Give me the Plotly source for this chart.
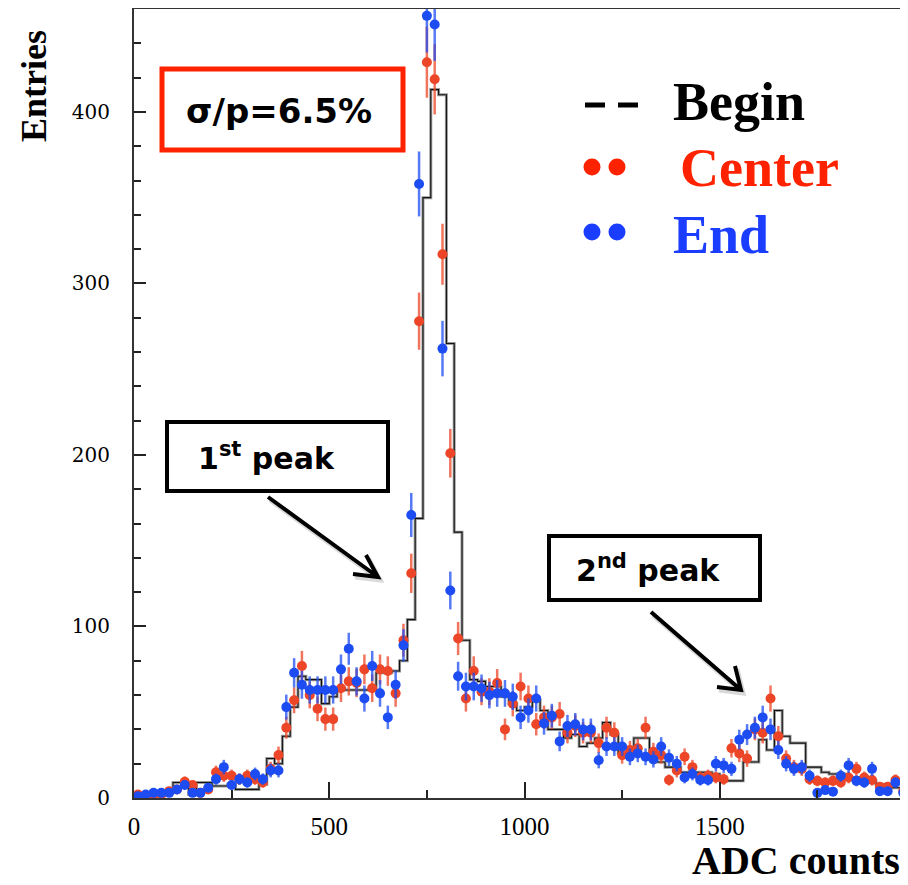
import numpy as np
import plotly.graph_objects as go

# ---------------- data (bin width 20 ADC counts, bins start at 0) ----------------
BIN_WIDTH = 20
begin_counts = [
    1, 1, 2, 2, 3, 9, 9, 2, 9, 9,
    7, 7, 8, 5, 5, 5, 8, 23, 20, 36,
    53, 71, 69, 69, 55, 59, 64, 63, 63, 63,
    63, 73, 73, 74, 80, 104, 163, 350, 413, 410,
    265, 155, 92, 69, 68, 65, 65, 59, 55, 51,
    53, 57, 51, 40, 40, 35, 37, 30, 32, 35,
    44, 37, 26, 26, 35, 35, 25, 21, 18, 18,
    15, 15, 15, 15, 14, 10, 10, 10, 21, 21,
    34, 28, 51, 36, 32, 32, 18, 18, 15, 14,
    14, 12, 12, 10, 10, 8, 8, 6, 6,
]
center_counts = [
    2, 1, 2, 2, 4, 5, 9.5, 7.6, 3, 5,
    15, 13, 13, 11, 13, 11, 9, 17, 25, 41,
    57, 77, 60, 52, 46, 46, 64, 68, 67, 75,
    64, 75, 74, 61, 92, 131, 278, 429, 419, 317,
    201, 93, 58, 74, 62, 62, 67, 40, 55, 65,
    58, 43, 47, 47, 49, 38, 42, 38, 38, 32,
    41, 38, 25, 28, 29, 41, 27, 25, 10.5, 16,
    24, 18, 12, 13, 12, 11, 29, 26, 23, 40,
    38, 58, 36, 23, 18, 17, 11, 10, 9, 10,
    9, 12, 17, 12, 10.5, 6.5, 6.5, 10.5, 4,
]
end_counts = [
    1, 2, 3, 3, 3, 5, 7.6, 3, 3, 6,
    11, 18, 7.6, 11, 9, 14, 11, 16, 16, 53,
    73, 66, 63, 63, 63, 63, 75, 87, 68, 58,
    77, 61, 47, 66, 89, 165, 358, 456, 451, 262,
    121, 71, 65, 65, 64, 60, 61, 61, 59, 47,
    51, 58, 43.5, 48, 33, 42, 43, 40, 40, 22,
    30, 30, 30, 24, 26, 24, 22.5, 30, 23.5, 20,
    12, 14, 10.5, 10.5, 20, 19, 17, 34, 37, 41,
    47, 40, 28, 20, 17, 18, 13, 3, 4.6, 3.7,
    13, 19, 10, 9, 17, 4, 4, 9, 3,
]
x_tick_vals = [0, 500, 1000, 1500]
y_tick_vals = [0, 100, 200, 300, 400]

n_bins = len(begin_counts)
edges = np.arange(n_bins + 1) * BIN_WIDTH
centers = edges[:-1] + BIN_WIDTH / 2

# ---------------- geometry (screen pixels; page body has an 8px margin) ----------------
OFF = 8
W, H = 908 - OFF, 885 - OFF
PLOT_L, PLOT_R, PLOT_T, PLOT_B = 134, 908, 9, 798   # plot area on screen
PW, PH = PLOT_R - PLOT_L, PLOT_B - PLOT_T


def px(x):
    return (x - PLOT_L) / PW


def py(y):
    return (PLOT_B - y) / PH


RED = "#EC4527"
BLUE = "#1D4CF2"

fig = go.Figure()

# Begin histogram (step line)
hx = list(edges)
hy = list(begin_counts) + [begin_counts[-1]]
fig.add_trace(go.Scatter(x=hx, y=hy, mode="lines", line=dict(shape="hv", color="#9a9a9a", width=3),
                         hoverinfo="skip", showlegend=False))
fig.add_trace(go.Scatter(x=hx, y=hy, mode="lines", line=dict(shape="hv", color="#111111", width=1.1),
                         name="Begin", showlegend=False))

# Center and End points with statistical error bars
fig.add_trace(go.Scatter(
    x=centers, y=center_counts, mode="markers", name="Center", showlegend=False,
    marker=dict(color=RED, size=10),
    error_y=dict(type="data", array=np.sqrt(center_counts), color="rgba(236,69,39,0.75)",
                 thickness=2.5, width=0)))
fig.add_trace(go.Scatter(
    x=centers, y=end_counts, mode="markers", name="End", showlegend=False,
    marker=dict(color=BLUE, size=10),
    error_y=dict(type="data", array=np.sqrt(end_counts), color="rgba(29,76,242,0.75)",
                 thickness=2.5, width=0)))

shapes = []
annotations = []

# sigma/p box
shapes.append(dict(type="rect", xref="paper", yref="paper", x0=px(162), x1=px(403), y0=py(150), y1=py(69),
                   line=dict(color="#FF2200", width=5), fillcolor="rgba(0,0,0,0)"))
annotations.append(dict(xref="paper", yref="paper", x=px(279), y=py(111), text="<b>σ/p=6.5%</b>",
                        showarrow=False, xanchor="center", yanchor="middle",
                        font=dict(family="DejaVu Sans", size=34, color="black")))

# 1st peak box
shapes.append(dict(type="rect", xref="paper", yref="paper", x0=px(167), x1=px(388), y0=py(491), y1=py(422),
                   line=dict(color="black", width=4), fillcolor="white"))
annotations.append(dict(xref="paper", yref="paper", x=px(266), y=py(456), text="<b>1<sup>st</sup> peak</b>",
                        showarrow=False, xanchor="center", yanchor="middle",
                        font=dict(family="DejaVu Sans", size=30, color="black")))

# 2nd peak box
shapes.append(dict(type="rect", xref="paper", yref="paper", x0=px(549), x1=px(760), y0=py(600), y1=py(536),
                   line=dict(color="black", width=4), fillcolor="white"))
annotations.append(dict(xref="paper", yref="paper", x=px(648), y=py(569), text="<b>2<sup>nd</sup> peak</b>",
                        showarrow=False, xanchor="center", yanchor="middle",
                        font=dict(family="DejaVu Sans", size=30, color="black")))


def arrow_path(tail, tip, arm1, arm2):
    pts = [tail, tip, arm1, arm2]
    (tx, ty), (hx_, hy_), (a1x, a1y), (a2x, a2y) = [(px(x), py(y)) for x, y in pts]
    return (f"M {tx},{ty} L {hx_},{hy_} M {a1x},{a1y} L {hx_},{hy_} L {a2x},{a2y}")


# arrow shadows (soft grey) then arrows
for tail, tip, a1, a2 in [((268, 497), (378, 577), (353, 574), (366, 555)),
                          ((651, 612), (741, 690), (717, 687), (735, 666))]:
    sh = [(x + 2, y + 3) for x, y in (tail, tip, a1, a2)]
    shapes.append(dict(type="path", xref="paper", yref="paper", path=arrow_path(*sh),
                       line=dict(color="rgba(0,0,0,0.15)", width=5)))
    shapes.append(dict(type="path", xref="paper", yref="paper", path=arrow_path(tail, tip, a1, a2),
                       line=dict(color="black", width=4)))

# Legend (hand drawn like the reference)
for x0, x1 in [(585, 605), (618, 638)]:
    shapes.append(dict(type="line", xref="paper", yref="paper", x0=px(x0), x1=px(x1), y0=py(105), y1=py(105),
                       line=dict(color="black", width=5)))
for cy, col in [(167, "#FF2200"), (232, "#1A3DFF")]:
    for cx in (592, 617):
        shapes.append(dict(type="circle", xref="paper", yref="paper", x0=px(cx - 8.5), x1=px(cx + 8.5),
                           y0=py(cy + 8.5), y1=py(cy - 8.5), line=dict(width=0), fillcolor=col))
for text, x, y, col in [("Begin", 671, 102, "black"), ("Center", 678, 168, "#FF2200"), ("End", 671, 235, "#1A3DFF")]:
    annotations.append(dict(xref="paper", yref="paper", x=px(x), y=py(y), text=f"<b>{text}</b>",
                            showarrow=False, xanchor="left", yanchor="middle",
                            font=dict(family="Liberation Serif", size=54, color=col)))

# Axis titles
annotations.append(dict(xref="paper", yref="paper", x=px(34), y=py(86), text="<b>Entries</b>", textangle=-90,
                        showarrow=False, xanchor="center", yanchor="middle",
                        font=dict(family="Liberation Serif", size=36, color="black")))
annotations.append(dict(xref="paper", yref="paper", x=px(902), y=py(861), text="<b>ADC counts</b>",
                        showarrow=False, xanchor="right", yanchor="middle",
                        font=dict(family="Liberation Serif", size=40, color="black")))

fig.update_layout(
    width=W, height=H,
    margin=dict(l=PLOT_L - OFF, r=W - (PLOT_R - OFF), t=PLOT_T - OFF, b=H - (PLOT_B - OFF)),
    paper_bgcolor="white", plot_bgcolor="white",
    shapes=shapes, annotations=annotations, showlegend=False,
)
fig.update_xaxes(range=[0, PW / 0.3905], tickvals=x_tick_vals, ticks="inside", ticklen=16, tickwidth=2,
                 tickcolor="#222", showline=True, linecolor="#333", linewidth=2, mirror=True, showgrid=False,
                 zeroline=False, ticklabelstandoff=5,
                 tickfont=dict(family="Liberation Serif", size=25, color="black"),
                 minor=dict(dtick=250, tick0=0, ticks="inside", ticklen=8, tickcolor="#222", tickwidth=2))
fig.update_yaxes(range=[0, 460], tickvals=y_tick_vals, ticks="inside", ticklen=12, tickwidth=2,
                 tickcolor="#222", showline=True, linecolor="#333", linewidth=2, mirror=False, showgrid=False,
                 zeroline=False, ticklabelstandoff=18,
                 tickfont=dict(family="DejaVu Serif", size=20, color="black"),
                 minor=dict(dtick=20, tick0=0, ticks="inside", ticklen=7, tickcolor="#222", tickwidth=1.5))

fig.write_html("out.html")
